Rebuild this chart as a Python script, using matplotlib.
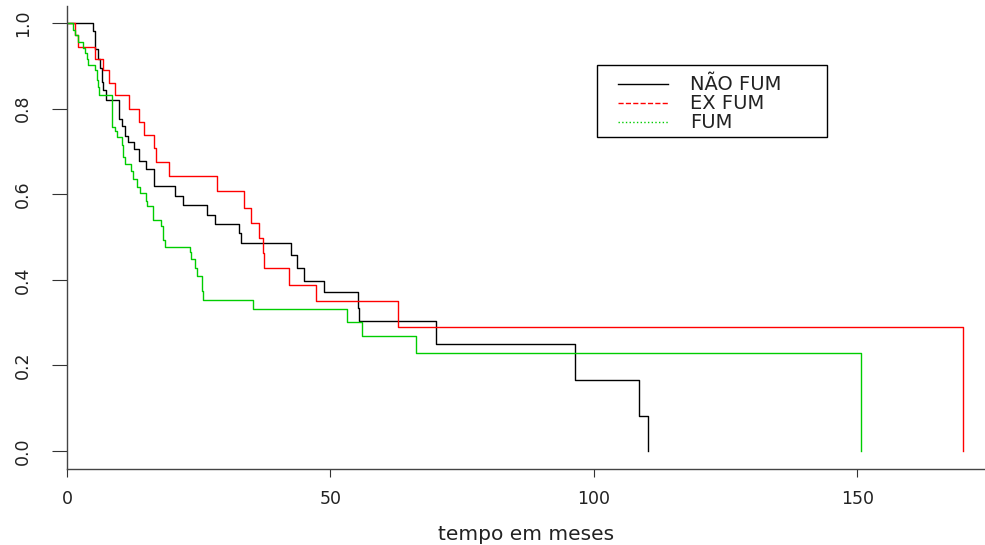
import matplotlib
matplotlib.use('Agg')
import matplotlib.pyplot as plt
from matplotlib.lines import Line2D
from matplotlib.patches import Rectangle

plt.rcParams['font.family'] = ['DejaVu Sans']

# Kaplan-Meier curves: event times (months) and survival after each step
t_nao = [0, 4.9, 5.4, 5.9, 6.3, 6.6, 6.9, 7.4, 9.9, 10.4, 11.0, 11.6, 12.7, 13.7, 15.0,
         16.5, 20.4, 22.1, 26.5, 28.1, 32.6, 33.0, 42.5, 43.7, 45.0, 48.8, 55.3, 55.5,
         70.0, 96.4, 108.6, 110.3]
s_nao = [1.0, 0.981, 0.940, 0.917, 0.895, 0.862, 0.843, 0.821, 0.776, 0.760, 0.737, 0.722,
         0.706, 0.678, 0.659, 0.620, 0.596, 0.574, 0.552, 0.530, 0.509, 0.487, 0.458, 0.428,
         0.398, 0.371, 0.334, 0.303, 0.250, 0.166, 0.083, 0.0]

t_ex = [0, 1.5, 2.0, 5.4, 6.9, 8.0, 9.1, 11.8, 13.7, 14.6, 16.5, 16.9, 19.3, 28.4, 33.6,
        34.9, 36.4, 37.1, 37.3, 42.2, 47.2, 62.9, 170.0]
s_ex = [1.0, 0.972, 0.944, 0.917, 0.890, 0.860, 0.831, 0.800, 0.769, 0.739, 0.708, 0.675,
        0.643, 0.608, 0.569, 0.534, 0.499, 0.462, 0.428, 0.389, 0.350, 0.290, 0.0]

t_fum = [0, 1.2, 1.5, 2.1, 3.0, 3.4, 3.8, 4.0, 5.3, 5.7, 5.9, 6.1, 8.5, 9.1, 9.4, 10.4,
         10.7, 11.0, 12.1, 12.5, 13.2, 13.8, 15.0, 15.2, 16.3, 17.8, 18.2, 18.6, 23.3,
         23.6, 24.3, 24.6, 25.6, 25.9, 35.3, 53.1, 55.9, 66.2, 150.7]
s_fum = [1.0, 0.985, 0.972, 0.956, 0.943, 0.929, 0.917, 0.903, 0.890, 0.866, 0.850, 0.831,
         0.757, 0.749, 0.733, 0.714, 0.686, 0.671, 0.655, 0.635, 0.616, 0.604, 0.585,
         0.573, 0.541, 0.526, 0.494, 0.477, 0.464, 0.448, 0.428, 0.408, 0.373, 0.354,
         0.332, 0.301, 0.268, 0.228, 0.0]

labels = ['NÃO FUM', 'EX FUM', 'FUM']
cores = ['black', '#FF0000', '#00CD00']
estilos = ['-', '--', ':']

W, H = 985, 545
fig = plt.figure(figsize=(W / 100, H / 100), dpi=100)
ax = fig.add_axes([67 / W, 76 / H, 918 / W, 463 / H])

for t, s, c in zip([t_nao, t_ex, t_fum], [s_nao, s_ex, s_fum], cores):
    ax.step(t, s, where='post', color=c, lw=1.0)

ax.set_xlim(0, 174.2)
ax.set_ylim(-0.042, 1.04)

for sp in ['top', 'right']:
    ax.spines[sp].set_visible(False)
for sp in ['left', 'bottom']:
    ax.spines[sp].set_color('#444444')
    ax.spines[sp].set_linewidth(1.0)

ax.set_xticks([0, 50, 100, 150])
ax.set_yticks([0.0, 0.2, 0.4, 0.6, 0.8, 1.0])
ax.set_yticklabels(['0.0', '0.2', '0.4', '0.6', '0.8', '1.0'], rotation=90, va='center')
ax.tick_params(direction='out', width=0.8, colors='#333333', labelsize=12.5,
               labelcolor='#222222')
ax.tick_params(axis='x', length=6, pad=9)
ax.tick_params(axis='y', length=11, pad=14)
ax.set_xlabel('tempo em meses', fontsize=14.5, color='#222222', labelpad=12)

# legend box drawn by hand, in figure pixels from the top-left corner
def fx(px):
    return px / W

def fy(py):
    return 1 - py / H

fig.add_artist(Rectangle((fx(597), fy(137)), fx(827) - fx(597), fy(65) - fy(137),
                         transform=fig.transFigure, fill=False, ec='black', lw=1.0))
for i, (lab, c, ls) in enumerate(zip(labels, cores, estilos)):
    yy = fy(84 + 19 * i)
    fig.add_artist(Line2D([fx(618), fx(668)], [yy, yy], transform=fig.transFigure,
                          color=c, ls=ls, lw=1.0))
    fig.text(fx(690), yy, lab, fontsize=14, color='#222222', va='center', ha='left')

fig.savefig('out.png', dpi=100)
